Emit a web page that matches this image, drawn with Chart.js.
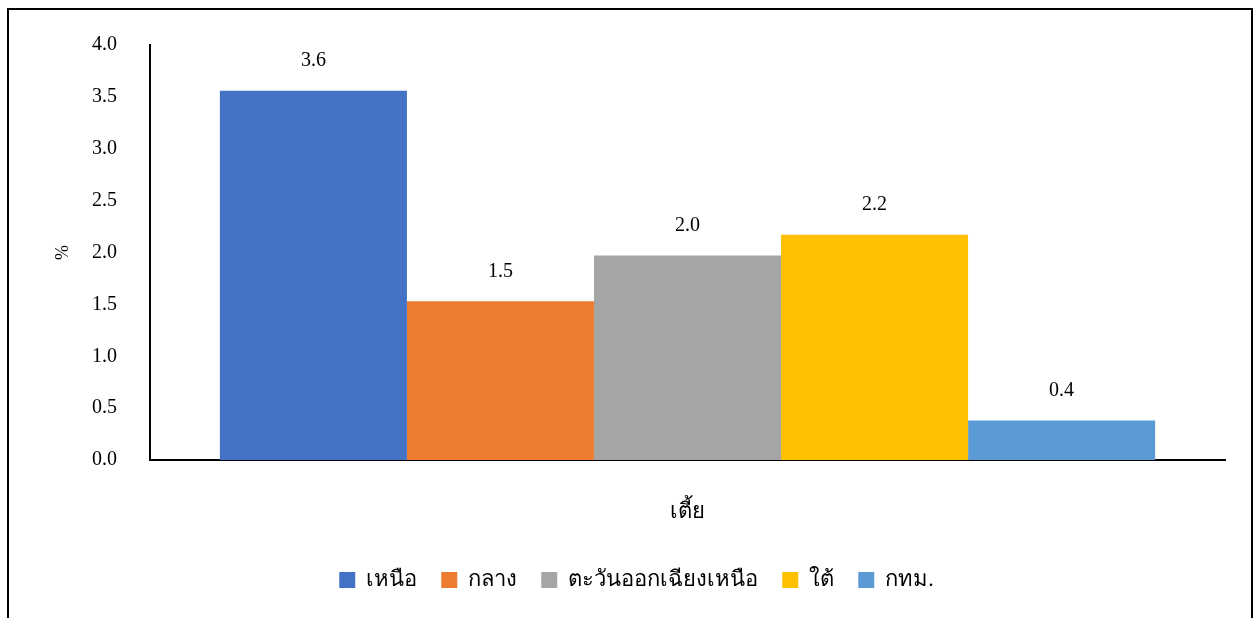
<!DOCTYPE html>
<html>
<head>
<meta charset="utf-8">
<script src="https://cdn.jsdelivr.net/npm/chart.js@4/dist/chart.umd.min.js"></script>
<style>
  html, body { margin: 0; padding: 0; background: #fff; }
  #wrap { width: 1257px; height: 618px; }
</style>
</head>
<body>
<div id="wrap"><canvas id="myChart" width="1257" height="618"></canvas></div>
<script>
const categories = ['เตี้ย'];
const regions = ['เหนือ', 'กลาง', 'ตะวันออกเฉียงเหนือ', 'ใต้', 'กทม.'];
const values = [3.56, 1.53, 1.97, 2.17, 0.38];
const colors = ['#4472C4', '#ED7D31', '#A5A5A5', '#FFC000', '#5B9BD5'];
const yTicks = [0, 0.5, 1, 1.5, 2, 2.5, 3, 3.5, 4];

const FONT = "'Liberation Serif', 'Times New Roman', serif";

const datasets = regions.map((name, i) => ({
    label: name,
    data: [values[i]],
    backgroundColor: colors[i],
    borderWidth: 0,
    barPercentage: 1.0,
    categoryPercentage: 0.87,
}));

// outer frame + value labels over the bars
const decorations = {
    id: 'decorations',
    afterDraw(chart) {
        const ctx = chart.ctx;
        ctx.save();
        ctx.strokeStyle = '#000';
        ctx.lineWidth = 2;
        ctx.strokeRect(8, 9, 1244, 620);

        ctx.fillStyle = '#000';
        ctx.font = '20px ' + FONT;
        ctx.textAlign = 'center';
        ctx.textBaseline = 'middle';
        chart.data.datasets.forEach((ds, i) => {
            const meta = chart.getDatasetMeta(i);
            meta.data.forEach((bar, j) => {
                ctx.fillText(ds.data[j].toFixed(1), bar.x, bar.y - 30);
            });
        });
        ctx.restore();
    }
};

const ctx = document.getElementById('myChart').getContext('2d');
const myChart = new Chart(ctx, {
    type: 'bar',
    data: { labels: categories, datasets: datasets },
    options: {
        responsive: false,
        animation: false,
        layout: { padding: { left: 48, right: 32, top: 43, bottom: 17 } },
        plugins: {
            tooltip: { enabled: false },
            legend: {
                position: 'bottom',
                labels: {
                    color: '#000',
                    boxWidth: 16,
                    boxHeight: 16,
                    padding: 24,
                    font: { family: FONT, size: 22 },
                },
            },
        },
        scales: {
            x: {
                grid: { display: false, drawTicks: false },
                border: { color: '#000', width: 2 },
                ticks: { color: '#000', padding: 39, font: { family: FONT, size: 22 } },
                afterFit(scale) { scale.height = 85; },
            },
            y: {
                min: 0,
                max: 4,
                afterBuildTicks(scale) { scale.ticks = yTicks.map(v => ({ value: v })); },
                grid: { display: false, drawTicks: false },
                border: { color: '#000', width: 2 },
                ticks: {
                    color: '#000',
                    padding: 33,
                    font: { family: FONT, size: 20 },
                    callback: v => Number(v).toFixed(1),
                },
                title: {
                    display: true,
                    text: '%',
                    color: '#000',
                    padding: { top: 4, bottom: 0 },
                    font: { family: FONT, size: 18 },
                },
                afterFit(scale) { scale.width = 102; },
            },
        },
    },
    plugins: [decorations],
});
</script>
</body>
</html>
